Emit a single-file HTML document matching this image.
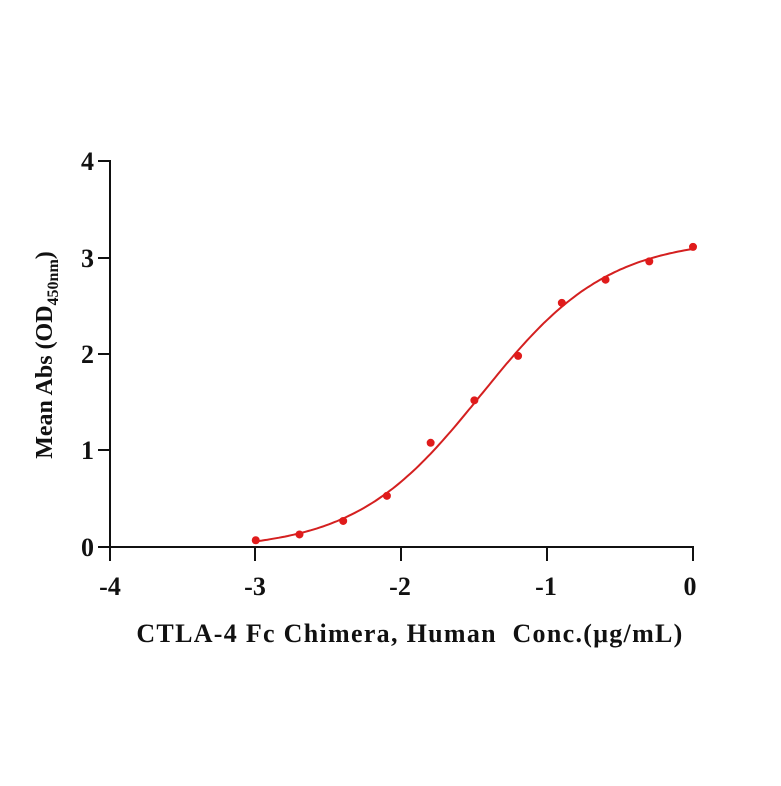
<!DOCTYPE html>
<html><head><meta charset="utf-8"><style>
html,body{margin:0;padding:0;background:#fff;}
svg text{font-family:"Liberation Serif",serif;font-weight:bold;fill:#111;}
</style></head><body>
<svg id="s" width="781" height="781" viewBox="0 0 781 781" xmlns="http://www.w3.org/2000/svg">
<g stroke="#111" stroke-width="2" fill="none">
<line x1="110" y1="160" x2="110" y2="548"/>
<line x1="109" y1="547" x2="694" y2="547"/>
<line x1="98" y1="161" x2="110" y2="161"/>
<line x1="98" y1="258" x2="110" y2="258"/>
<line x1="98" y1="354" x2="110" y2="354"/>
<line x1="98" y1="450" x2="110" y2="450"/>
<line x1="98" y1="547" x2="110" y2="547"/>
<line x1="110" y1="547" x2="110" y2="561"/>
<line x1="255" y1="547" x2="255" y2="561"/>
<line x1="401" y1="547" x2="401" y2="561"/>
<line x1="547" y1="547" x2="547" y2="561"/>
<line x1="693" y1="547" x2="693" y2="561"/>
</g>
<g font-size="26" text-anchor="end">
<text x="94" y="170">4</text><text x="94" y="267">3</text><text x="94" y="363">2</text><text x="94" y="459">1</text><text x="94" y="556">0</text>
</g>
<g font-size="26" text-anchor="middle">
<text x="110" y="595">-4</text><text x="255" y="595">-3</text><text x="400" y="595">-2</text><text x="546" y="595">-1</text><text x="690" y="595">0</text>
</g>
<text x="410" y="642" font-size="26" text-anchor="middle" letter-spacing="1.3" style="white-space:pre">CTLA-4 Fc Chimera, Human  Conc.(μg/mL)</text>
<text transform="translate(52,355) rotate(-90)" font-size="24" text-anchor="middle">Mean Abs (OD<tspan font-size="16" dy="6">450nm</tspan><tspan dy="-6">)</tspan></text>
<path id="c" fill="none" stroke="#d42020" stroke-width="2"/>
<g id="p" fill="#e01b1b"></g>
</svg>
<script>
var X=function(v){return 693+v*145.75},Y=function(v){return 547-v*96.5};
var d="";for(var x=-3;x<=0.0001;x+=0.02){var f=-0.03+3.23/(1+Math.pow(10,(-1.45-x)*1.0));d+=(d?"L":"M")+X(x).toFixed(1)+" "+Y(f).toFixed(1);}
document.getElementById("c").setAttribute("d",d);
var pts=[[-3,0.07],[-2.7,0.13],[-2.4,0.27],[-2.1,0.53],[-1.8,1.08],[-1.5,1.52],[-1.2,1.98],[-0.9,2.53],[-0.6,2.77],[-0.3,2.96],[0,3.11]];
var g=document.getElementById("p"),h="";
pts.forEach(function(p){h+='<circle cx="'+X(p[0])+'" cy="'+Y(p[1])+'" r="4"/>';});
g.innerHTML=h;
</script>
</body></html>
